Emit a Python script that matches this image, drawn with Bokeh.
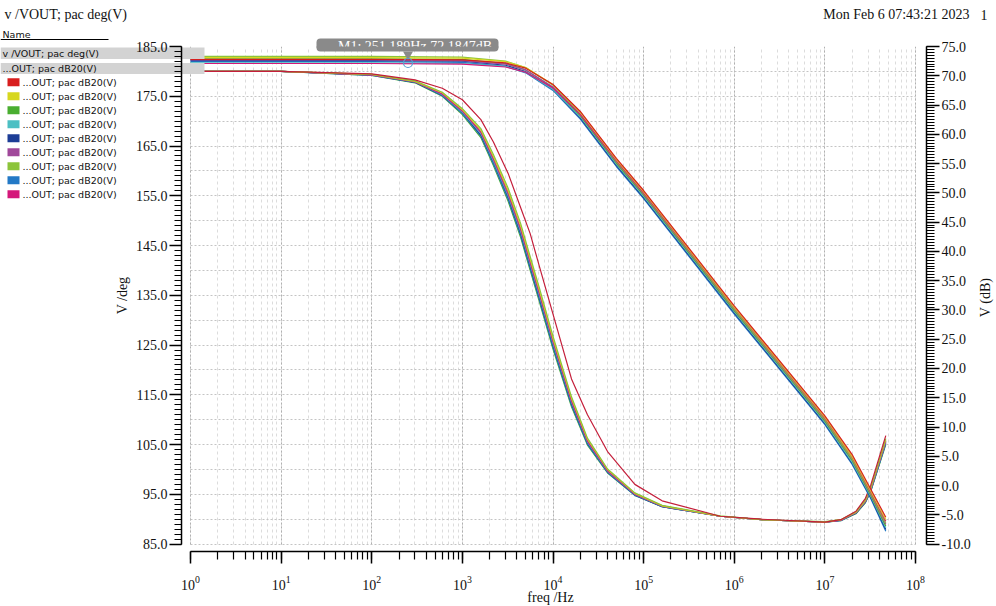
import math
from bokeh.plotting import figure
from bokeh.models import (Range1d, LinearAxis, FixedTicker, SingleIntervalTicker,
                          LogTicker, PrintfTickFormatter, BoxAnnotation, Quad)
from bokeh.core.properties import value
from bokeh.embed import file_html
from bokeh.resources import INLINE

# ---------------- data ----------------
freq_db = [1, 100, 1e3, 3e3, 5e3, 1e4, 2e4, 5e4, 1e5, 1e6, 1e7, 2e7, 3.2e7, 4.7e7]
db_red = [72.8, 72.8, 72.7, 72.2, 71.3, 68.5, 63.9, 55.9, 50.4, 30.7, 11.9, 5.3, -0.6, -5.4]
db_yellow = [73.1, 73.1, 73.0, 72.4, 71.4, 68.5, 63.8, 55.7, 50.2, 30.5, 11.7, 5.0, -0.9, -5.8]
db_green = [72.9, 72.9, 72.8, 72.1, 71.0, 68.0, 63.2, 55.1, 49.6, 29.9, 11.0, 4.3, -1.6, -6.9]
db_cyan = [72.2, 72.2, 72.1, 71.6, 70.6, 67.7, 63.0, 54.9, 49.4, 29.7, 10.8, 4.0, -1.8, -7.2]
db_darkblue = [72.6, 72.6, 72.5, 71.8, 70.7, 67.7, 62.8, 54.7, 49.2, 29.5, 10.6, 3.8, -2.0, -7.5]
db_purple = [72.7, 72.7, 72.6, 72.0, 71.0, 68.1, 63.4, 55.3, 49.8, 30.1, 11.2, 4.5, -1.4, -6.6]
db_yellowgreen = [73.3, 73.3, 73.2, 72.5, 71.4, 68.4, 63.5, 55.4, 49.9, 30.2, 11.3, 4.6, -1.3, -6.4]
db_blue = [72.4, 72.4, 72.3, 71.6, 70.5, 67.5, 62.6, 54.5, 49.0, 29.3, 10.4, 3.6, -2.2, -7.8]
db_magenta = [72.1, 72.1, 72.0, 71.5, 70.6, 67.9, 63.4, 55.5, 50.0, 30.4, 11.5, 4.9, -1.1, -6.1]

freq_ph = [1, 10, 100, 300, 600, 1e3, 1.6e3, 2.2e3, 3.2e3, 4.4e3, 5.6e3, 7e3, 1e4,
           1.6e4, 2.4e4, 4e4, 8e4, 1.6e5, 7e5, 2e6, 1e7, 1.5e7, 2.2e7, 2.8e7, 3.2e7, 4.7e7]
ph_red = [180.0, 180.0, 179.5, 178.3, 176.6, 174.3, 170.3, 165.8, 159.5, 152.6, 147.4, 141.1, 131.2,
          118.2, 111.0, 103.6, 97.0, 93.7, 90.6, 90.0, 89.4, 89.9, 91.6, 94.2, 96.8, 106.8]
ph_yellow = [180.0, 180.0, 179.4, 178.0, 175.7, 172.3, 168.2, 162.9, 156.0, 148.9, 142.3, 136.3, 126.3,
             114.3, 106.1, 100.0, 95.2, 92.7, 90.6, 89.9, 89.4, 89.9, 91.4, 93.8, 96.2, 106.0]
ph_green = [180.0, 180.0, 179.2, 177.7, 175.0, 171.3, 166.7, 161.1, 153.9, 146.6, 140.0, 134.0, 124.2,
            112.6, 104.9, 99.3, 94.8, 92.5, 90.6, 89.9, 89.4, 89.7, 91.1, 93.3, 95.5, 105.0]
ph_cyan = [180.0, 180.0, 179.3, 177.9, 175.3, 171.8, 167.5, 162.0, 155.0, 147.8, 141.2, 135.2, 125.3,
           113.5, 105.5, 99.6, 95.0, 92.6, 90.6, 89.9, 89.4, 89.8, 91.3, 93.6, 95.8, 105.5]
ph_darkblue = [180.0, 180.0, 179.3, 177.8, 175.2, 171.7, 167.2, 161.8, 154.7, 147.4, 140.8, 134.8, 125.0,
               113.2, 105.3, 99.5, 94.9, 92.5, 90.6, 89.9, 89.4, 89.8, 91.2, 93.5, 95.7, 105.4]
ph_purple = [180.0, 180.0, 179.3, 177.9, 175.4, 172.0, 167.7, 162.3, 155.3, 148.1, 141.5, 135.5, 125.6,
             113.7, 105.7, 99.7, 95.0, 92.6, 90.6, 89.9, 89.4, 89.8, 91.3, 93.6, 95.9, 105.7]
ph_yellowgreen = [180.0, 180.0, 179.4, 178.1, 175.8, 172.5, 168.5, 163.3, 156.5, 149.4, 142.8, 136.8, 126.8,
                  114.6, 106.3, 100.1, 95.3, 92.8, 90.7, 89.9, 89.5, 89.9, 91.5, 93.9, 96.3, 106.2]
ph_blue = [180.0, 180.0, 179.2, 177.8, 175.1, 171.5, 167.0, 161.4, 154.3, 147.0, 140.4, 134.4, 124.6,
           112.9, 105.1, 99.4, 94.8, 92.5, 90.6, 89.9, 89.4, 89.7, 91.2, 93.4, 95.6, 105.2]
ph_magenta = [180.0, 180.0, 179.3, 178.0, 175.5, 172.1, 167.9, 162.6, 155.7, 148.5, 141.9, 135.9, 126.0,
              113.9, 105.8, 99.8, 95.1, 92.7, 90.6, 89.9, 89.4, 89.8, 91.4, 93.7, 96.0, 105.8]

legend_labels = ["...OUT; pac dB20(V)"] * 9
series_colors = ["#d81e1e", "#d7d71e", "#4aae30", "#4cbfc3", "#1c3d96",
                 "#a0489a", "#8cc43a", "#2379c6", "#d4177a"]
db_series = [db_red, db_yellow, db_green, db_cyan, db_darkblue,
             db_purple, db_yellowgreen, db_blue, db_magenta]
ph_series = [ph_red, ph_yellow, ph_green, ph_cyan, ph_darkblue,
             ph_purple, ph_yellowgreen, ph_blue, ph_magenta]
ph_colors = ["#c41e3a", "#d7d71e", "#4aae30", "#4cbfc3", "#1c3d96",
             "#a0489a", "#8cc43a", "#2379c6", "#d4177a"]
ph_draw_order = [2, 7, 4, 3, 5, 8, 1, 6, 0]
db_draw_order = [7, 4, 3, 2, 5, 6, 8, 1, 0]

deg_ticks = [85, 95, 105, 115, 125, 135, 145, 155, 165, 175, 185]
deg_minor = list(range(85, 186))
db_ticks = [-10, -5, 0, 5, 10, 15, 20, 25, 30, 35, 40, 45, 50, 55, 60, 65, 70, 75]
db_minor = [v / 2 for v in range(-20, 151)]

marker_freq = 251.189
marker_db = 72.1847
marker_text = "M1: 251.189Hz 72.1847dB"

title_text = "v /VOUT; pac deg(V)"
date_text = "Mon Feb 6 07:43:21 2023"
page_text = "1"
legend_header = "Name"
group_rows = ["v /VOUT; pac deg(V)", "...OUT; pac dB20(V)"]

# ---------------- layout constants (page pixels) ----------------
W, H = 996, 606
FRAME_L, FRAME_R, FRAME_T, FRAME_B = 181, 926, 46, 551
PX_DEG = 497.6 / 100.0
PX_DB = 497.6 / 85.0
PX_DEC = 90.625
X0 = 190  # pixel of 10^0

SERIF = "Liberation Serif"
SANS = "DejaVu Sans"

# ================= main plot (transparent, drawn on top) =================
pa = figure(width=W, height=H, x_axis_type="log",
            x_range=Range1d(10 ** ((FRAME_L - X0) / PX_DEC), 10 ** (8 + (FRAME_R - 915) / PX_DEC)),
            y_range=Range1d(185 - (FRAME_B - FRAME_T) / PX_DEG, 185),
            output_backend="svg", toolbar_location=None,
            min_border_left=FRAME_L, min_border_right=W - FRAME_R,
            min_border_top=FRAME_T, min_border_bottom=H - FRAME_B)
pa.outline_line_color = None
pa.background_fill_color = None
pa.border_fill_color = None
pa.extra_y_ranges = {"db": Range1d(75 - (FRAME_B - FRAME_T) / PX_DB, 75)}
pa.styles = {"margin-top": f"-{H}px"}


def style_axis(ax, out_major=12, out_minor=7, standoff=2):
    ax.axis_line_color = "black"
    ax.axis_line_width = 1.5
    ax.major_tick_line_color = "black"
    ax.major_tick_line_width = 1.5
    ax.minor_tick_line_color = "black"
    ax.minor_tick_line_width = 1.2
    ax.major_tick_in = 0
    ax.major_tick_out = out_major
    ax.minor_tick_in = 0
    ax.minor_tick_out = out_minor
    ax.major_label_text_font = SERIF
    ax.major_label_text_font_size = "14px"
    ax.major_label_text_color = "#111111"
    ax.major_label_standoff = standoff
    ax.level = "overlay"


xa = pa.xaxis[0]
xa.ticker = LogTicker(num_minor_ticks=10)
xa.bounds = (1, 1e8)
style_axis(xa, 12, 8, 12)

ya = pa.yaxis[0]
ya.ticker = FixedTicker(ticks=deg_ticks, minor_ticks=deg_minor)
ya.formatter = PrintfTickFormatter(format="%.1f")
ya.bounds = (85, 185)
style_axis(ya, 12, 7, 2)

ra = LinearAxis(y_range_name="db",
                ticker=FixedTicker(ticks=db_ticks, minor_ticks=db_minor),
                formatter=PrintfTickFormatter(format="%.1f"))
ra.bounds = (-10, 75)
style_axis(ra, 13, 8, 2)
pa.add_layout(ra, "right")

xg = pa.xgrid[0]
xg.bounds = (1, 1e8)
xg.grid_line_color = "#b0b0b0"
xg.grid_line_dash = "2 2"
xg.minor_grid_line_color = "#dcdcdc"
xg.minor_grid_line_dash = "3 3"
yg = pa.ygrid[0]
yg.ticker = SingleIntervalTicker(interval=5, num_minor_ticks=0)
yg.bounds = (85, 185)
yg.grid_line_color = "#c4c4c4"
yg.grid_line_dash = "2 2"
if "cross_bounds" in xg.properties():
    xg.cross_bounds = (85, 185)
    yg.cross_bounds = (1, 1e8)

for i in ph_draw_order:
    pa.line(freq_ph, ph_series[i], line_color=ph_colors[i], line_width=1.2)
for i in db_draw_order:
    pa.line(freq_db, db_series[i], y_range_name="db", line_color=series_colors[i], line_width=1.2)


def sx(x):
    return x - FRAME_L


def sy(y):
    return FRAME_B - y


def frame_box(x0, y0, x1, y1, color, radius=None):
    b = BoxAnnotation(left=sx(x0), right=sx(x1), top=sy(y0), bottom=sy(y1),
                      left_units="screen", right_units="screen",
                      top_units="screen", bottom_units="screen",
                      fill_color=color, fill_alpha=1.0, line_color=None)
    if radius is not None and "border_radius" in b.properties():
        b.border_radius = radius
    pa.add_layout(b)


# in-frame parts of the gray name rows
frame_box(FRAME_L - 2, 47, 204, 58.5, "#d3d3d3")
frame_box(FRAME_L - 2, 62.5, 204, 73.5, "#d3d3d3")

# marker M1 (lower part of its tag inside the frame)
mx = X0 + PX_DEC * math.log10(marker_freq)
frame_box(mx - 91.5, FRAME_T - 2, mx + 90.5, 51, "#8a8a8a", radius=(0, 0, 4, 4))
pa.scatter([marker_freq], [marker_db + 8.5 / PX_DB], y_range_name="db", marker="inverted_triangle",
           size=10, fill_color="#8a8a8a", line_color=None)
pa.scatter([marker_freq], [marker_db], y_range_name="db", marker="circle",
           size=9, fill_color=None, line_color="#5a9fd0", line_width=1.2)

# ================= page layer (texts, name list), underneath =================
pb = figure(width=W, height=H, x_range=Range1d(0, W), y_range=Range1d(0, H),
            output_backend="svg", toolbar_location=None,
            x_axis_location=None, y_axis_location=None,
            min_border_left=0, min_border_right=0, min_border_top=0, min_border_bottom=0)
pb.outline_line_color = None
pb.background_fill_color = "white"
pb.border_fill_color = "white"
pb.xgrid.visible = False
pb.ygrid.visible = False

HAS_RADIUS = "border_radius" in Quad.properties()


def bt(text, x, y, font=SERIF, size="14px", align="left", baseline="alphabetic",
       angle=0.0, color="#111111"):
    pb.text(x=[x], y=[H - y], text=[text], text_font=value(font),
            text_font_size=value(size), text_align=value(align),
            text_baseline=value(baseline), angle=angle, text_color=color)


def bq(x0, y0, x1, y1, color, radius=None):
    kw = {}
    if radius is not None and HAS_RADIUS:
        kw["border_radius"] = radius
    pb.quad(left=[x0], right=[x1], top=[H - y0], bottom=[H - y1],
            fill_color=color, line_color=None, **kw)


bt(title_text, 4, 14)
bt(date_text, 969, 14, align="right")
bt(page_text, 980, 14)

bt(legend_header, 2, 34, font=SANS, size="9.5px")
bq(0, 38.5, 108, 39.5, "#000000")
bq(0, 47, FRAME_L, 58.5, "#d3d3d3")
bq(0, 62.5, FRAME_L, 73.5, "#d3d3d3")
bt(group_rows[0], 2, 53.2, font=SANS, size="9.5px", baseline="middle")
bt(group_rows[1], 2, 68.2, font=SANS, size="9.5px", baseline="middle")
for k, (lab, col) in enumerate(zip(legend_labels, series_colors)):
    cy = 81.7 + 14 * k
    bq(7, cy - 4, 19, cy + 4, col)
    bt(lab, 22, cy + 0.3, font=SANS, size="9.5px", baseline="middle")

bt("V /deg", 122, 295, align="center", baseline="middle", angle=math.pi / 2)
bt("V (dB)", 985, 297, align="center", baseline="middle", angle=math.pi / 2)
bt("freq /Hz", 550, 597, align="center", baseline="middle")

# marker tag (upper part) and its white text
bq(mx - 91.5, 38, mx + 90.5, FRAME_T + 1, "#8a8a8a", radius=(4, 4, 0, 0))
bt(marker_text, mx + 7, 46, align="center", color="white")

open("out.html", "w").write(file_html([pb, pa], INLINE))
